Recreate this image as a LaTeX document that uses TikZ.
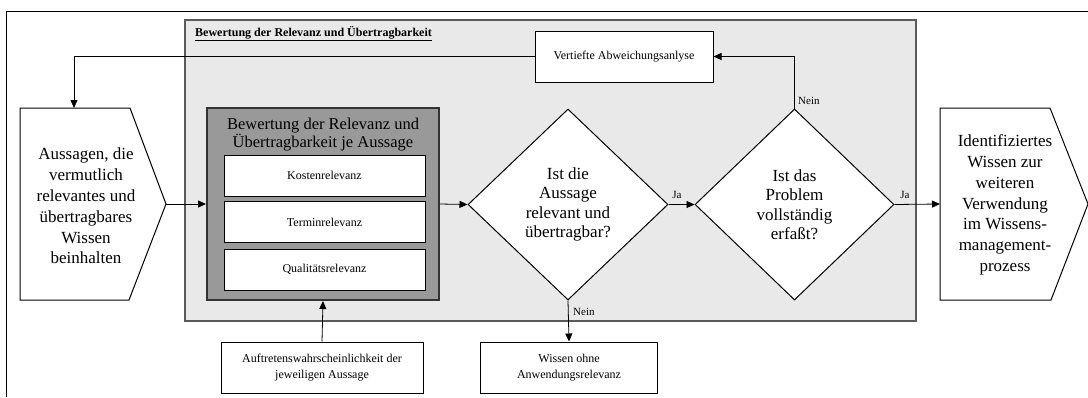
\documentclass[tikz,border=0pt]{standalone}
\usepackage{fontspec}
\setmainfont{Liberation Serif}
\usetikzlibrary{arrows.meta,shapes.geometric}

\definecolor{areagray}{HTML}{E9E9E9}
\definecolor{areaedge}{HTML}{5A5A5A}
\definecolor{evalgray}{HTML}{999999}
\definecolor{evaledge}{HTML}{333333}

\begin{document}
\begin{tikzpicture}[x=1pt,y=-1pt,
  conn/.style={line width=0.8pt,-{Triangle[length=8pt,width=7pt]}},
  plainbox/.style={draw,fill=white,line width=1pt,align=center,inner sep=0pt,
    font=\fontsize{12}{15.5}\selectfont},
  decision/.style={diamond,draw,fill=white,line width=1pt,inner sep=0pt,align=center,
    font=\fontsize{17}{19.5}\selectfont},
  bigtext/.style={align=center,inner sep=0pt,font=\fontsize{17}{20.8}\selectfont},
  edgelabel/.style={font=\fontsize{11}{13}\selectfont,inner sep=1pt}
]
\useasboundingbox (0,0) rectangle (1088,397);

% outer frame
\draw[line width=1pt] (6,397) -- (6,11) -- (1088,11);

% grey area of the evaluation stage
\filldraw[fill=areagray,draw=areaedge,line width=1.5pt] (185,20) rectangle (916,321);
\node[anchor=base west,inner sep=0pt,font=\bfseries\fontsize{12}{14}\selectfont] (areatitle)
  at (195,36.5) {\underline{Bewertung der Relevanz und Übertragbarkeit}};

% evaluation per statement
\node[draw=evaledge,fill=evalgray,line width=2pt,minimum width=232,minimum height=192] (eval)
  at (323,204) {};
\node[align=center,inner sep=0pt,font=\fontsize{16.5}{18}\selectfont] (evaltitle)
  at (323,135) {Bewertung der Relevanz und\\Übertragbarkeit je Aussage};
\node[plainbox,minimum width=201,minimum height=41] (kosten) at (324.5,175.5) {Kostenrelevanz};
\node[plainbox,minimum width=201,minimum height=41] (termin) at (324.5,222) {Terminrelevanz};
\node[plainbox,minimum width=201,minimum height=41] (qualitaet) at (324.5,269.5) {Qualitätsrelevanz};

% side boxes
\node[plainbox,minimum width=202,minimum height=51] (auftreten) at (322,367.5)
  {Auftretenswahrscheinlichkeit der\\jeweiligen Aussage};
\node[plainbox,minimum width=177,minimum height=51] (ohne) at (569,367.5)
  {Wissen ohne\\Anwendungsrelevanz};
\node[plainbox,minimum width=178,minimum height=51] (vertieft) at (624,56.5)
  {Vertiefte Abweichungsanlyse};

% decisions
\node[decision,minimum width=200,minimum height=191] (relevant) at (568,204.5)
  {Ist die\\Aussage\\relevant und\\übertragbar?};
\node[decision,minimum width=199,minimum height=191] (vollst) at (794.5,204.5)
  {Ist das\\Problem\\vollständig\\erfaßt?};

% input and output shapes
\filldraw[fill=white,line width=1pt] (20,108) -- (130,108) -- (166,204) -- (129,300) -- (20,300) -- cycle;
\coordinate (intip) at (166,204);
\coordinate (intop) at (74,108);
\node[bigtext] (input) at (86,206)
  {Aussagen, die\\vermutlich\\relevantes und\\übertragbares\\Wissen\\beinhalten};

\filldraw[fill=white,line width=1pt] (940,108) -- (1050,108) -- (1088,204) -- (1051,300) -- (940,300) -- cycle;
\coordinate (outleft) at (940,204);
\node[bigtext] (output) at (1005,205)
  {Identifiziertes\\Wissen zur\\weiteren\\Verwendung\\im Wissens-\\management-\\prozess};

% connectors
\draw[conn] (intip) -- (eval.west);
\draw[conn] (eval.east) -- (relevant.west);
\draw[conn] (relevant.east) -- (vollst.west);
\node[edgelabel,anchor=south] (ja1) at (677,200) {Ja};
\draw[conn] (vollst.east) -- (outleft);
\node[edgelabel,anchor=south] (ja2) at (905,200) {Ja};
\draw[conn] (relevant.south) -- (ohne.north);
\node[edgelabel,anchor=west] (nein1) at (572,312) {Nein};
\draw[conn] (vollst.north) |- (vertieft.east);
\node[edgelabel,anchor=west] (nein2) at (797,101) {Nein};
\draw[conn] (vertieft.west) -| (intop);
\draw[conn] (auftreten.north) -- (eval.south);
\end{tikzpicture}
\end{document}
